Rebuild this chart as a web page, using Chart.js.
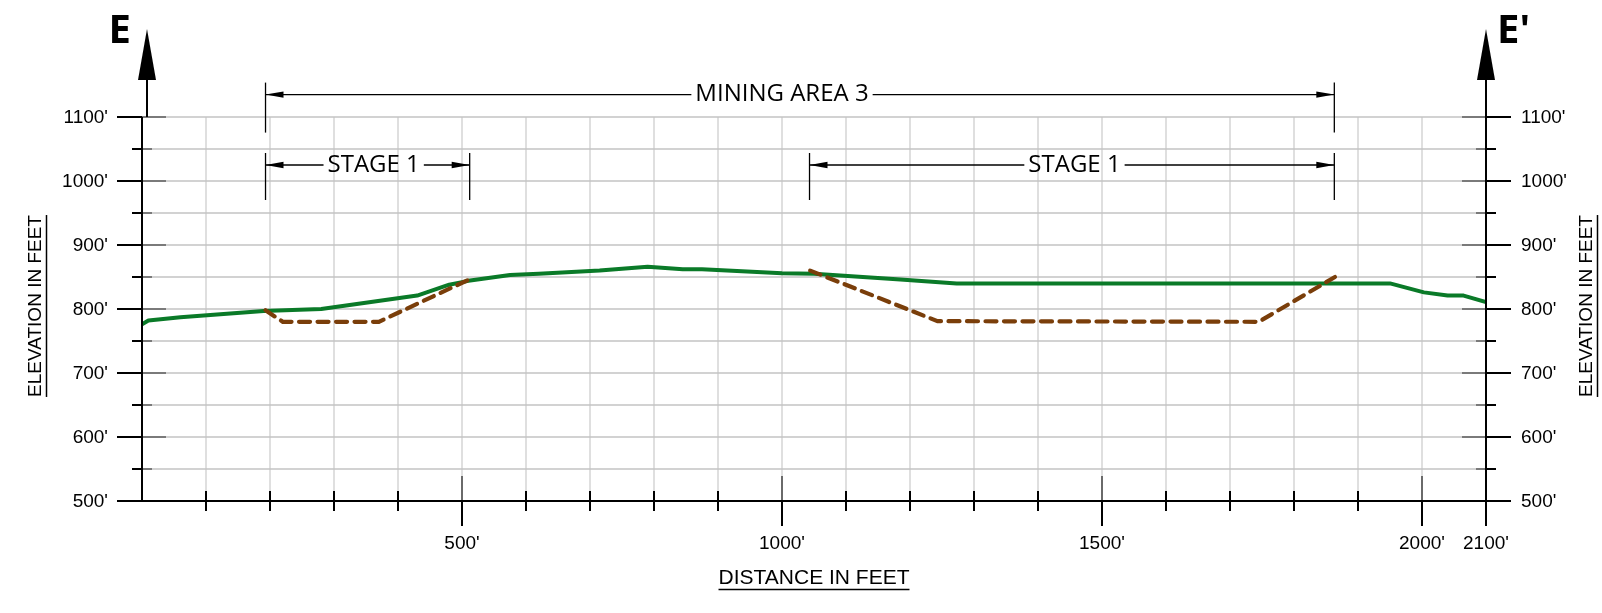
<!DOCTYPE html>
<html>
<head>
<meta charset="utf-8">
<script src="https://cdn.jsdelivr.net/npm/chart.js@4"></script>
<style>
  body { margin: 0; background: #fff; }
  #wrap { position: relative; width: 1602px; height: 613px; }
</style>
</head>
<body>
<div id="wrap"><canvas id="section"></canvas></div>
<script>
// ground surface (green)
const groundDist = [0, 10, 60, 190, 280, 430, 480, 510, 575, 620, 715, 790, 845, 875, 1000, 1050, 1185, 1273, 1950, 2003, 2040, 2065, 2100];
const groundElev = [776, 782, 787, 797, 800, 821, 838, 844, 853, 855, 860, 866, 862, 862, 856, 855, 846, 840, 840, 826, 821, 821, 811];

// stage 1 excavation (brown dashed)
const westPitDist = [193, 220, 370, 513];
const westPitElev = [798, 780, 780, 847];
const eastPitDist = [1044, 1243, 1745, 1864];
const eastPitElev = [860, 781, 780, 850];

// axis ticks
const xTickValues = [500, 1000, 1500, 2000, 2100];
const xTickLabels = ["500'", "1000'", "1500'", "2000'", "2100'"];
const yTickValues = [500, 600, 700, 800, 900, 1000, 1100];
const yTickLabels = ["500'", "600'", "700'", "800'", "900'", "1000'", "1100'"];

// dimension callouts (feet)
const dimLabels = ['MINING AREA 3', 'STAGE 1', 'STAGE 1'];
const dimStart = [193, 193, 1043];
const dimEnd = [1863, 512, 1863];
const dimElev = [1135, 1025, 1025];
const dimLabelAt = [1000, 362, 1457];

const toPoints = (xs, ys) => xs.map((d, i) => ({ x: d, y: ys[i] }));

function arrowHead(ctx, x, y, dir) {
  ctx.beginPath();
  ctx.moveTo(x, y);
  ctx.lineTo(x + dir * 18, y - 3.2);
  ctx.lineTo(x + dir * 18, y + 3.2);
  ctx.closePath();
  ctx.fill();
}

function line(ctx, x1, y1, x2, y2) {
  ctx.beginPath();
  ctx.moveTo(x1, y1);
  ctx.lineTo(x2, y2);
  ctx.stroke();
}

const sectionPlugin = {
  id: 'section',
  beforeDatasetsDraw(chart) {
    const { ctx, scales: { x, y } } = chart;
    const top = y.getPixelForValue(1100), bot = y.getPixelForValue(500);
    const left = x.getPixelForValue(0), right = x.getPixelForValue(2100);
    ctx.save();
    ctx.lineWidth = 1.5;
    ctx.strokeStyle = '#d5d5d5';
    for (let d = 100; d < 2100; d += 100) {
      const px = x.getPixelForValue(d);
      line(ctx, px, top, px, bot);
    }
    ctx.strokeStyle = '#c3c3c3';
    for (let v = 550; v <= 1100; v += 50) {
      const py = y.getPixelForValue(v);
      line(ctx, left, py, right, py);
    }
    ctx.restore();
  },
  afterDatasetsDraw(chart) {
    const { ctx, scales: { x, y } } = chart;
    const top = y.getPixelForValue(1100), bot = y.getPixelForValue(500);
    const left = x.getPixelForValue(0), right = x.getPixelForValue(2100);
    ctx.save();

    // elevation ticks, both sides
    ctx.lineWidth = 2;
    for (let v = 500; v <= 1100; v += 50) {
      const py = y.getPixelForValue(v);
      const major = v % 100 === 0;
      const outL = major ? 25 : 10, inL = major ? 24 : 10;
      ctx.strokeStyle = '#000';
      line(ctx, left - outL, py, left, py);
      line(ctx, right, py, right + outL, py);
      ctx.strokeStyle = '#7a7a7a';
      line(ctx, left, py, left + inL, py);
      line(ctx, right - inL, py, right, py);
    }

    // distance ticks
    for (let d = 100; d <= 2000; d += 100) {
      const px = x.getPixelForValue(d);
      if (d % 500 === 0) {
        ctx.strokeStyle = '#6a6a6a';
        line(ctx, px, bot - 25, px, bot);
        ctx.strokeStyle = '#000';
        line(ctx, px, bot, px, bot + 25);
      } else {
        ctx.strokeStyle = '#000';
        line(ctx, px, bot - 10, px, bot + 10);
      }
    }

    // axes
    ctx.strokeStyle = '#000';
    ctx.lineWidth = 2;
    line(ctx, left, bot, right, bot);
    line(ctx, left, top, left, bot);
    line(ctx, left + 5, top, left + 5, 80);
    line(ctx, right, bot + 25, right, 80);

    // section arrows
    ctx.fillStyle = '#000';
    [left + 5, right].forEach(cx => {
      ctx.beginPath();
      ctx.moveTo(cx, 29);
      ctx.lineTo(cx + 9, 80);
      ctx.lineTo(cx - 9, 80);
      ctx.closePath();
      ctx.fill();
    });
    ctx.font = 'bold 40px "Open Sans"';
    ctx.textBaseline = 'alphabetic';
    ctx.textAlign = 'right';
    ctx.fillText('E', left - 11, 43);
    ctx.textAlign = 'left';
    ctx.fillText("E'", right + 11, 43);

    // tick labels
    ctx.font = '19px "Liberation Sans", Arial, sans-serif';
    ctx.textBaseline = 'middle';
    yTickValues.forEach((v, i) => {
      const py = y.getPixelForValue(v);
      ctx.textAlign = 'right';
      ctx.fillText(yTickLabels[i], left - 34, py + 1);
      ctx.textAlign = 'left';
      ctx.fillText(yTickLabels[i], right + 35, py + 1);
    });
    ctx.textAlign = 'center';
    xTickValues.forEach((d, i) => {
      ctx.fillText(xTickLabels[i], x.getPixelForValue(d), bot + 43);
    });

    // axis titles (underlined)
    const title = (text, cx, cy, rot, off) => {
      ctx.save();
      ctx.translate(cx, cy);
      ctx.rotate(rot);
      ctx.textAlign = 'center';
      ctx.textBaseline = 'middle';
      ctx.fillText(text, 0, 0);
      const w = ctx.measureText(text).width;
      ctx.lineWidth = 1.5;
      line(ctx, -w / 2, off, w / 2, off);
      ctx.restore();
    };
    ctx.font = '21px "Liberation Sans", Arial, sans-serif';
    title('DISTANCE IN FEET', (left + right) / 2, 578, 0, 11.5);
    ctx.font = '19px "Liberation Sans", Arial, sans-serif';
    title('ELEVATION IN FEET', 36, 306, -Math.PI / 2, 10.5);
    title('ELEVATION IN FEET', 1587, 306, -Math.PI / 2, 10.5);

    // dimension callouts
    ctx.font = '24px "Open Sans"';
    ctx.lineWidth = 1.3;
    dimLabels.forEach((lab, i) => {
      const x1 = x.getPixelForValue(dimStart[i]);
      const x2 = x.getPixelForValue(dimEnd[i]);
      const py = y.getPixelForValue(dimElev[i]);
      const tx = x.getPixelForValue(dimLabelAt[i]);
      const w = ctx.measureText(lab).width;
      const extDown = i === 0 ? 38 : 35;
      line(ctx, x1, py - 12, x1, py + extDown);
      line(ctx, x2, py - 12, x2, py + extDown);
      line(ctx, x1, py, tx - w / 2 - 4, py);
      line(ctx, tx + w / 2 + 4, py, x2, py);
      arrowHead(ctx, x1, py, 1);
      arrowHead(ctx, x2, py, -1);
      ctx.textAlign = 'center';
      ctx.textBaseline = 'middle';
      ctx.fillText(lab, tx, py);
    });

    ctx.restore();
  }
};

const pitStyle = {
  borderColor: '#7a3e0a',
  borderWidth: 4.2,
  borderDash: [11, 7.5],
  borderCapStyle: 'round',
  pointRadius: 0,
  tension: 0
};

new Chart(document.getElementById('section'), {
  type: 'line',
  data: {
    datasets: [
      Object.assign({ data: toPoints(westPitDist, westPitElev) }, pitStyle),
      Object.assign({ data: toPoints(eastPitDist, eastPitElev) }, pitStyle),
      {
        data: toPoints(groundDist, groundElev),
        borderColor: '#0a7a28',
        borderWidth: 4,
        borderJoinStyle: 'round',
        pointRadius: 0,
        tension: 0
      }
    ]
  },
  options: {
    responsive: true,
    maintainAspectRatio: false,
    animation: false,
    events: [],
    layout: { padding: { left: 142, right: 116, top: 117, bottom: 112 } },
    plugins: { legend: { display: false }, tooltip: { enabled: false } },
    scales: {
      x: { type: 'linear', min: 0, max: 2100, display: false },
      y: { type: 'linear', min: 500, max: 1100, display: false }
    }
  },
  plugins: [sectionPlugin]
});
</script>
</body>
</html>
